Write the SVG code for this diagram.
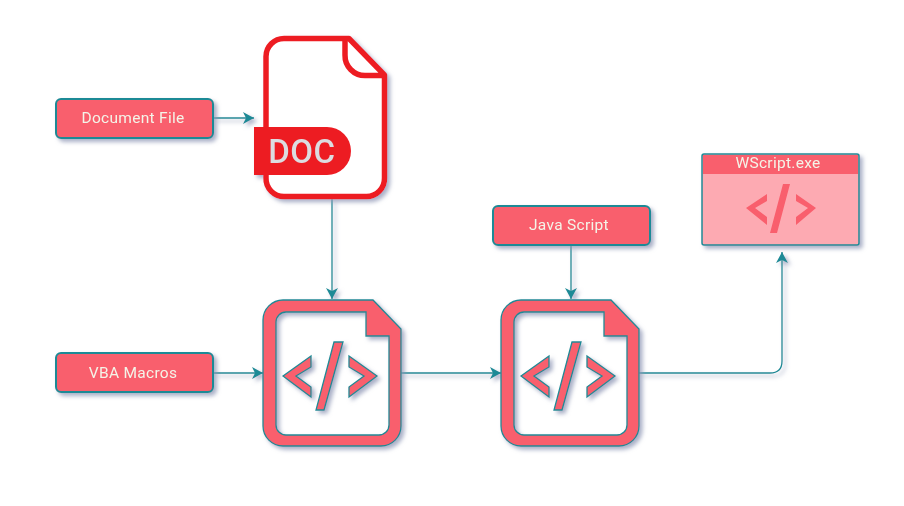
<svg xmlns="http://www.w3.org/2000/svg" width="904" height="506" viewBox="0 0 904 506">
<style>
text{font-family:Roboto,"Liberation Sans",sans-serif;font-size:15.500px;letter-spacing:.3px;fill:#f4f4e8;text-anchor:middle}
.box{fill:#f95f6d;stroke:#1f8a96;stroke-width:2}
.fill{fill:#f95f6d;stroke:#1f8a96;stroke-width:1.300}
.wire{fill:none;stroke:#1f8a96;stroke-width:1.300;marker-end:url(#a)}
.sh{filter:url(#s)}
</style>
<defs>
<filter id="s" x="-20%" y="-20%" width="150%" height="150%"><feDropShadow dx="3" dy="3" stdDeviation="2" flood-color="#8d95b5" flood-opacity=".75"/></filter>
<marker id="a" markerUnits="userSpaceOnUse" markerWidth="14" markerHeight="14" refX="11" refY="6" orient="auto"><path d="M0 0L11 6L0 12L3 6Z" fill="#1f8a96"/></marker>
<g id="code">
<path class="fill" fill-rule="evenodd" d="M283 300H373L401 329V426A20 20 0 0 1 381 446H283A20 20 0 0 1 263 426V320A20 20 0 0 1 283 300ZM286 312A10 10 0 0 0 276 322V425A10 10 0 0 0 286 435H379A10 10 0 0 0 389 425V336H366V312Z"/>
<path class="fill" d="M311 356L283 376L311 397V387L296 376L311 367ZM334 342H343L324 410H316ZM349 356L377 376L349 397V387L364 376L349 367Z"/>
</g>
</defs>
<g id="connectors" class="sh">
<path class="wire" d="M214 118H254"/>
<path class="wire" d="M332 199V299"/>
<path class="wire" d="M214 373H263"/>
<path class="wire" d="M401 373H501"/>
<path class="wire" d="M571 246V299"/>
<path class="wire" d="M639 373H770Q782 373 782 361V252"/>
</g>
<g id="document-file" class="sh"><rect class="box" x="56" y="99" width="157" height="39" rx="5"/><text x="133" y="123">Document File</text></g>
<g id="doc-icon" class="sh">
<path d="M349 38.500H284A18 18 0 0 0 266 56.500V178A18 18 0 0 0 284 196.500H366A18 18 0 0 0 384.500 178V75ZM345 40V55A20 20 0 0 0 365 75.500H384" fill="#fff" stroke="#ed1c24" stroke-width="5.500" stroke-linejoin="round"/>
<path d="M254 127H327A24 24 0 0 1 327 175H254Z" fill="#ed1c24"/>
<text x="302" y="163" style="font-size:33px;font-weight:500;letter-spacing:.5px;fill:#dcdce0">DOC</text>
</g>
<g id="vba-macros" class="sh"><rect class="box" x="56" y="353" width="157" height="39" rx="5"/><text x="133" y="378">VBA Macros</text></g>
<g id="macro-file" class="sh"><use href="#code"/></g>
<g id="java-script" class="sh"><rect class="box" x="493" y="206" width="157" height="39" rx="5"/><text x="569" y="230">Java Script</text></g>
<g id="script-file" class="sh"><use href="#code" x="238"/></g>
<g id="wscript" class="sh">
<rect x="702" y="154" width="157" height="91" rx="2" fill="#fdaab2" stroke="#1f8a96" stroke-width="1.500"/>
<rect x="703" y="155" width="155" height="19" fill="#f95f6d"/>
<text x="778" y="168">WScript.exe</text>
<path d="M767 194L746 208L767 225V217L755 208L767 201ZM783 184H790L777 233H770ZM796 194L816 208L796 225V217L808 208L796 201Z" fill="#f95f6d"/>
</g>
</svg>
